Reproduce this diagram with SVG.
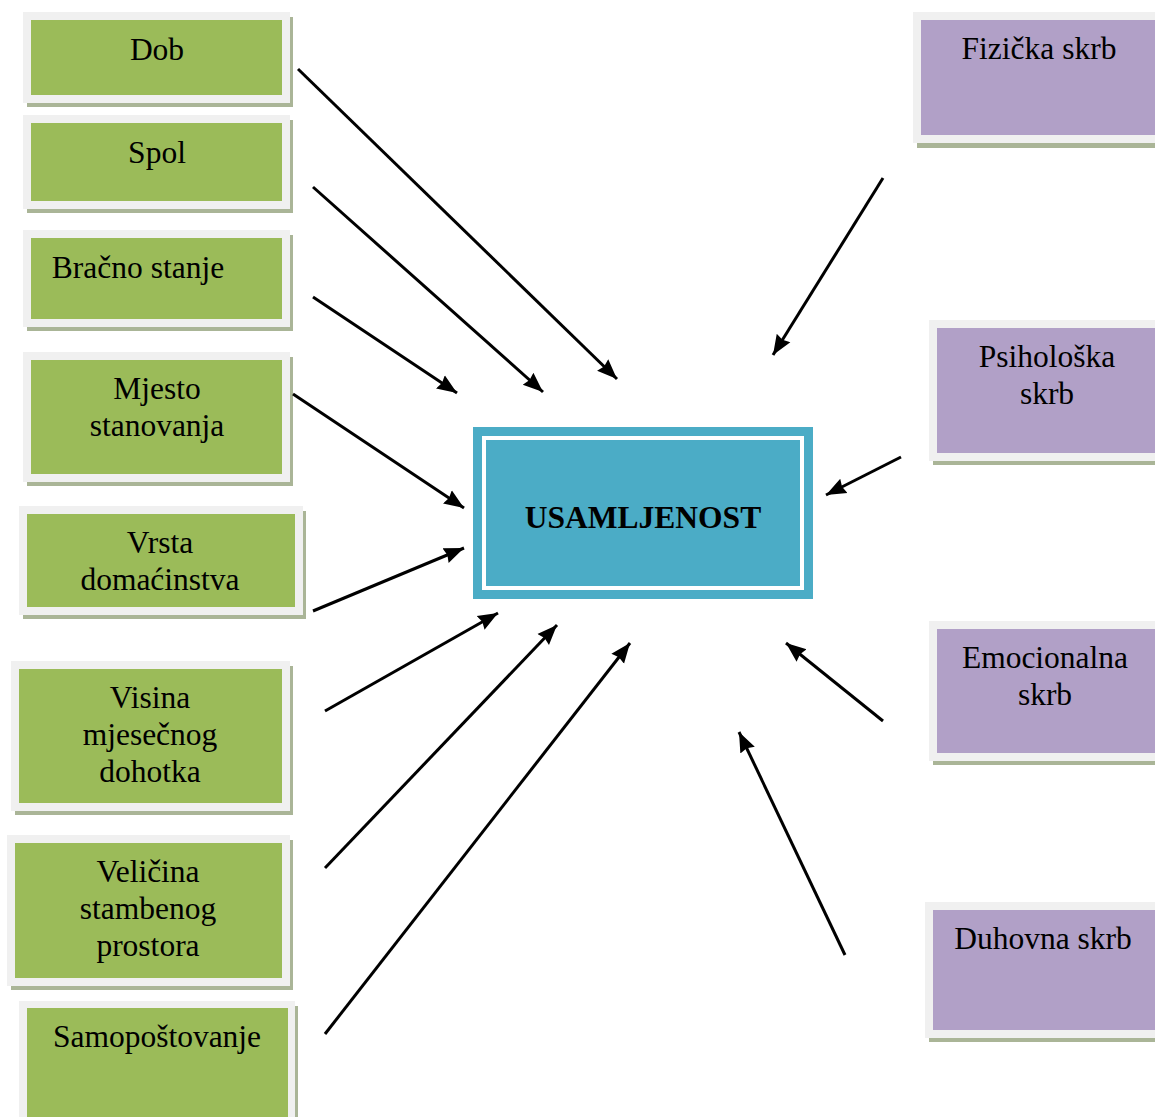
<svg xmlns="http://www.w3.org/2000/svg" width="1155" height="1117" viewBox="0 0 1155 1117">
<defs>
<style>
text{font-family:'Liberation Serif','Times New Roman',serif;font-size:31.5px;fill:#000;text-anchor:middle}
.sh{fill:#aab597}
.fr{fill:#f0f0f0}
.g{fill:#9bbb59}
.p{fill:#b1a0c7}
.c{stroke:#000;stroke-width:3;fill:none;marker-end:url(#ah)}
</style>
<marker id="ah" markerUnits="userSpaceOnUse" markerWidth="22" markerHeight="18" refX="20" refY="9" orient="auto">
<path d="M0,1 L20,9 L0,17 L2,9 z" fill="#000"/>
</marker>
</defs>
<rect width="1155" height="1117" fill="#fff"/>
<g id="n-dob"><rect class="sh" x="27" y="17" width="266" height="90"/><rect class="fr" x="23" y="12" width="267" height="91"/><rect class="g" x="31" y="20" width="251" height="75"/><text x="157" y="60">Dob</text></g>
<g id="n-spol"><rect class="sh" x="27" y="120" width="266" height="93"/><rect class="fr" x="23" y="115" width="267" height="94"/><rect class="g" x="31" y="123" width="251" height="78"/><text x="157" y="163">Spol</text></g>
<g id="n-bracno"><rect class="sh" x="27" y="235" width="266" height="96"/><rect class="fr" x="23" y="230" width="267" height="97"/><rect class="g" x="31" y="238" width="251" height="81"/><text x="138" y="278">Bračno stanje</text></g>
<g id="n-mjesto"><rect class="sh" x="27" y="357" width="266" height="129"/><rect class="fr" x="23" y="352" width="267" height="130"/><rect class="g" x="31" y="360" width="251" height="114"/><text x="157" y="399">Mjesto</text><text x="157" y="436">stanovanja</text></g>
<g id="n-vrsta"><rect class="sh" x="23" y="511" width="283" height="108"/><rect class="fr" x="19" y="506" width="284" height="109"/><rect class="g" x="27" y="514" width="268" height="93"/><text x="160" y="553">Vrsta</text><text x="160" y="590">domaćinstva</text></g>
<g id="n-visina"><rect class="sh" x="15" y="666" width="278" height="149"/><rect class="fr" x="11" y="661" width="279" height="150"/><rect class="g" x="19" y="669" width="263" height="134"/><text x="150" y="708">Visina</text><text x="150" y="745">mjesečnog</text><text x="150" y="782">dohotka</text></g>
<g id="n-velicina"><rect class="sh" x="11" y="840" width="282" height="150"/><rect class="fr" x="7" y="835" width="283" height="151"/><rect class="g" x="15" y="843" width="267" height="135"/><text x="148" y="882">Veličina</text><text x="148" y="919">stambenog</text><text x="148" y="956">prostora</text></g>
<g id="n-samo"><rect class="sh" x="23" y="1006" width="275" height="115"/><rect class="fr" x="19" y="1001" width="276" height="120"/><rect class="g" x="27" y="1008" width="261" height="109"/><text x="157" y="1047">Samopoštovanje</text></g>
<g id="n-fizicka"><rect class="sh" x="917" y="17" width="240" height="131"/><rect class="fr" x="913" y="12" width="244" height="131"/><rect class="p" x="921" y="20" width="236" height="115"/><text x="1039" y="59">Fizička skrb</text></g>
<g id="n-psiho"><rect class="sh" x="933" y="325" width="224" height="140"/><rect class="fr" x="929" y="320" width="228" height="141"/><rect class="p" x="937" y="328" width="220" height="125"/><text x="1047" y="367">Psihološka</text><text x="1047" y="404">skrb</text></g>
<g id="n-emoc"><rect class="sh" x="933" y="626" width="224" height="139"/><rect class="fr" x="929" y="621" width="228" height="140"/><rect class="p" x="937" y="629" width="220" height="124"/><text x="1045" y="668">Emocionalna</text><text x="1045" y="705">skrb</text></g>
<g id="n-duhovna"><rect class="sh" x="929" y="907" width="228" height="135"/><rect class="fr" x="925" y="902" width="232" height="136"/><rect class="p" x="933" y="910" width="224" height="120"/><text x="1043" y="949">Duhovna skrb</text></g>
<g id="n-usamljenost"><rect x="473" y="427" width="340" height="172" fill="#4bacc6"/><rect x="484" y="438" width="318" height="150" fill="none" stroke="#fff" stroke-width="4"/><text x="643" y="528" font-weight="bold">USAMLJENOST</text></g>
<g id="connectors">
<line class="c" x1="298" y1="69" x2="617" y2="379"/>
<line class="c" x1="313" y1="187" x2="543" y2="392"/>
<line class="c" x1="313" y1="297" x2="457" y2="393"/>
<line class="c" x1="293" y1="394" x2="464" y2="508"/>
<line class="c" x1="313" y1="611" x2="464" y2="548"/>
<line class="c" x1="325" y1="711" x2="498" y2="613"/>
<line class="c" x1="325" y1="868" x2="557" y2="625"/>
<line class="c" x1="325" y1="1034" x2="630" y2="643"/>
<line class="c" x1="883" y1="178" x2="773" y2="355"/>
<line class="c" x1="901" y1="457" x2="826" y2="495"/>
<line class="c" x1="883" y1="721" x2="786" y2="643"/>
<line class="c" x1="845" y1="955" x2="739" y2="732"/>
</g>
</svg>
